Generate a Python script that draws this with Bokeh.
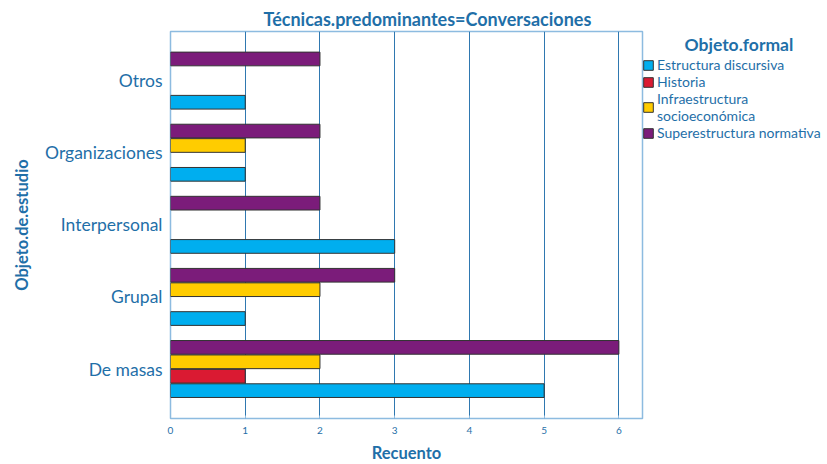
from bokeh.plotting import figure
from bokeh.models import (ColumnDataSource, FixedTicker, Legend, LegendItem, Range1d)
from bokeh.embed import file_html
from bokeh.resources import INLINE

categories = ["De masas", "Grupal", "Interpersonal", "Organizaciones", "Otros"]
series = ["Estructura discursiva", "Historia", "Infraestructura\nsocioeconómica", "Superestructura normativa"]
estructura = [5, 1, 3, 1, 1]
historia = [1, 0, 0, 0, 0]
infraestructura = [2, 2, 0, 1, 0]
superestructura = [6, 3, 2, 2, 2]
colors = ["#00AEEF", "#DA1A32", "#FFCC00", "#7B1C7A"]
x_ticks = [0, 1, 2, 3, 4, 5, 6]

FONT = "Lato"
TXT = "#1f6fa8"

p = figure(frame_width=472, frame_height=387, output_backend="svg", toolbar_location=None,
           x_range=Range1d(0, 6.316), y_range=Range1d(-0.6865, 4.681),
           min_border_left=170, min_border_top=31, min_border_bottom=44, min_border_right=0)
p.outline_line_color = "#8dbbe0"
p.outline_line_width = 1.5

p.title.text = "Técnicas.predominantes=Conversaciones"
p.title.align = "left"
p.title.offset = 93
p.title.standoff = 4
p.title.text_font = FONT
p.title.text_font_style = "bold"
p.title.text_font_size = "18px"
p.title.text_color = TXT

offsets = [-0.3, -0.1, 0.1, 0.3]
renderers = []
for vals, off, col in zip([estructura, historia, infraestructura, superestructura], offsets, colors):
    ys = [i + off for i, v in enumerate(vals) if v > 0]
    xs = [v for v in vals if v > 0]
    src = ColumnDataSource(dict(y=ys, right=xs))
    r = p.hbar(y="y", left=0, right="right", height=0.19, source=src,
               fill_color=col, line_color="#333333", line_width=1)
    renderers.append(r)

# axes
p.xaxis.ticker = FixedTicker(ticks=x_ticks)
p.xaxis.axis_label = "Recuento"
p.xaxis.axis_label_text_font = FONT
p.xaxis.axis_label_text_font_style = "bold"
p.xaxis.axis_label_text_font_size = "16.5px"
p.xaxis.axis_label_text_color = TXT
p.xaxis.axis_label_standoff = 6
p.xaxis.major_label_text_font = FONT
p.xaxis.major_label_text_font_size = "10px"
p.xaxis.major_label_text_color = TXT
p.xaxis.major_label_standoff = 8
p.xaxis.axis_line_color = None
p.xaxis.major_tick_line_color = "#8dbbe0"
p.xaxis.major_tick_in = 3
p.xaxis.major_tick_out = 0
p.xaxis.minor_tick_line_color = None

p.yaxis.ticker = FixedTicker(ticks=list(range(len(categories))))
p.yaxis.major_label_overrides = {i: c for i, c in enumerate(categories)}
p.yaxis.axis_label = "Objeto.de.estudio"
p.yaxis.axis_label_text_font = FONT
p.yaxis.axis_label_text_font_style = "bold"
p.yaxis.axis_label_text_font_size = "16.5px"
p.yaxis.axis_label_text_color = TXT
p.yaxis.axis_label_standoff = 10
p.yaxis.major_label_text_font = FONT
p.yaxis.major_label_text_font_size = "17.5px"
p.yaxis.major_label_text_color = TXT
p.yaxis.major_label_standoff = 2
p.yaxis.axis_line_color = None
p.yaxis.major_tick_line_color = None
p.yaxis.minor_tick_line_color = None

p.xgrid.ticker = FixedTicker(ticks=x_ticks)
p.xgrid.grid_line_color = "#2f78b0"
p.xgrid.grid_line_width = 1
p.ygrid.grid_line_color = None

legend = Legend(items=[LegendItem(label=s, renderers=[r]) for s, r in zip(series, renderers)],
                location=(0, 277), orientation="vertical",
                title="\u00a0" * 10 + "Objeto.formal", title_standoff=1,
                title_text_font=FONT, title_text_font_style="bold",
                title_text_font_size="17.5px", title_text_color=TXT,
                glyph_width=12, glyph_height=12, label_standoff=3, spacing=-4,
                padding=0, margin=0, border_line_color=None, background_fill_alpha=0,
                label_text_font=FONT, label_text_font_size="14px", label_text_color=TXT,
                label_height=12, label_text_line_height=0.85)
p.add_layout(legend, "right")

open("out.html", "w").write(file_html(p, INLINE))
